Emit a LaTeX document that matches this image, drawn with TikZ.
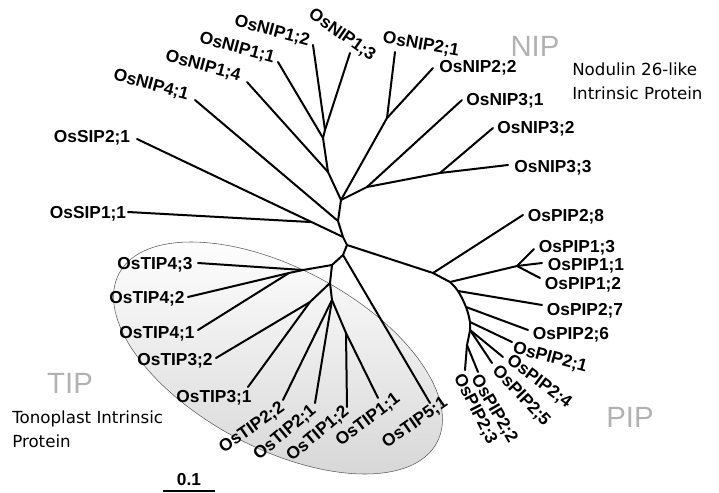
\documentclass[tikz,border=0pt]{standalone}
\usepackage{fontspec}
\setmainfont{Liberation Sans}
\newfontfamily\descfont{DejaVu Sans}

\begin{document}
\begin{tikzpicture}[x=0.75pt, y=-0.75pt,
    branch/.style={line width=1.5pt, line cap=round, line join=round},
    leaf/.style={font=\fontsize{13}{15}\selectfont\bfseries, inner sep=0pt},
    group/.style={font=\fontsize{22}{24}\selectfont, text=gray!60},
    desc/.style={font=\descfont\fontsize{12.5}{18}\selectfont, align=left, inner sep=0pt}]
    \useasboundingbox (0, 0) rectangle (719, 493);
    \shade [top color=white, bottom color=gray!32, draw=gray!70!black, line width=0.4pt,
        rotate around={-28:(278, 358)}] (278, 358) ellipse [x radius=180, y radius=90];

    \coordinate (n1) at (341, 200);
    \coordinate (n0) at (338, 221);
    \coordinate (s0) at (343, 237);
    \coordinate (c0) at (347, 245);
    \coordinate (t0) at (343, 255);
    \coordinate (n2) at (328, 172);
    \coordinate (n3) at (323, 138);
    \coordinate (n4) at (325, 130);
    \coordinate (m2) at (387, 118);
    \coordinate (m3) at (367, 187);
    \coordinate (m4) at (440, 173);
    \coordinate (s1) at (310, 222);
    \coordinate (p0) at (433, 273);
    \coordinate (p1) at (450, 282);
    \coordinate (pc) at (517, 266);
    \coordinate (p2) at (458, 291);
    \coordinate (p3) at (466, 307);
    \coordinate (p4) at (470, 322);
    \coordinate (p5) at (470, 330);
    \coordinate (p6) at (467, 345);
    \coordinate (t1) at (332, 265);
    \coordinate (t4) at (303, 270);
    \coordinate (t41) at (289, 273);
    \coordinate (t2) at (330, 283);
    \coordinate (t3) at (310, 302);
    \coordinate (t5) at (332, 300);
    \coordinate (t6) at (346, 333);

    \coordinate (nip41) at (195, 100);
    \coordinate (nip14) at (247, 82);
    \coordinate (nip11) at (278, 62);
    \coordinate (nip12) at (313, 45);
    \coordinate (nip13) at (350, 53);
    \coordinate (nip21) at (395, 52);
    \coordinate (nip22) at (433, 68);
    \coordinate (nip31) at (462, 100);
    \coordinate (nip32) at (493, 128);
    \coordinate (nip33) at (508, 165);
    \coordinate (sip21) at (137, 139);
    \coordinate (sip11) at (128, 212);
    \coordinate (pip28) at (523, 215);
    \coordinate (pip13) at (534, 249);
    \coordinate (pip11) at (542, 263);
    \coordinate (pip12) at (540, 278);
    \coordinate (pip27) at (542, 305);
    \coordinate (pip26) at (528, 330);
    \coordinate (pip21) at (512, 342);
    \coordinate (pip24) at (503, 357);
    \coordinate (pip25) at (492, 363);
    \coordinate (pip22) at (478, 372);
    \coordinate (pip23) at (465, 370);
    \coordinate (tip43) at (198, 263);
    \coordinate (tip42) at (188, 297);
    \coordinate (tip41) at (198, 330);
    \coordinate (tip32) at (216, 358);
    \coordinate (tip31) at (248, 387);
    \coordinate (tip22) at (283, 400);
    \coordinate (tip21) at (315, 403);
    \coordinate (tip12) at (347, 407);
    \coordinate (tip11) at (378, 398);
    \coordinate (tip51) at (430, 403);

    \draw [branch] (nip12) -- (n4) -- (n3) -- (n2) -- (n1) -- (n0) -- (s0) -- (c0) -- (t0);
    \draw [branch] (nip13) -- (n4);
    \draw [branch] (nip11) -- (n3);
    \draw [branch] (nip14) -- (n2);
    \draw [branch] (nip41) -- (n0);
    \draw [branch] (sip21) -- (s0);
    \draw [branch] (sip11) -- (s1);
    \draw [branch] (n1) -- (m2) -- (nip21);
    \draw [branch] (m2) -- (nip22);
    \draw [branch] (n1) -- (m3) -- (nip31);
    \draw [branch] (m3) -- (m4) -- (nip32);
    \draw [branch] (m4) -- (nip33);

    \draw [branch] (c0) -- (p0) -- (pip28);
    \draw [branch] (p0) -- (p1) -- (pc) -- (pip11);
    \draw [branch] (pc) -- (pip13);
    \draw [branch] (pc) -- (pip12);
    \draw [branch] plot [smooth, tension=0.6] coordinates {(p1) (p2) (p3) (p4) (p5) (p6)};
    \draw [branch] (p2) -- (pip27);
    \draw [branch] (p3) -- (pip26);
    \draw [branch] (p4) -- (pip21);
    \draw [branch] (p5) -- (pip24);
    \draw [branch] (p5) -- (pip25);
    \draw [branch] (p6) -- (pip22);
    \draw [branch] (p6) -- (pip23);

    \draw [branch] (t0) -- (t1) -- (t4) -- (tip43);
    \draw [branch] (t4) -- (t41) -- (tip42);
    \draw [branch] (t41) -- (tip41);
    \draw [branch] (t1) -- (t2) -- (t3) -- (tip32);
    \draw [branch] (t3) -- (tip31);
    \draw [branch] (t2) -- (t5) -- (tip22);
    \draw [branch] (t5) -- (tip21);
    \draw [branch] (t5) -- (t6) -- (tip11);
    \draw [branch] (t6) -- (tip12);
    \draw [branch] (t0) -- (tip51);

    \node [leaf] (sip21t) at (92, 138) {OsSIP2;1};
    \node [leaf] (sip11t) at (88, 214) {OsSIP1;1};
    \node [leaf, rotate=-15] (nip41t) at (151, 85) {OsNIP4;1};
    \node [leaf, rotate=-15] (nip14t) at (203, 66) {OsNIP1;4};
    \node [leaf, rotate=-15] (nip11t) at (237, 48) {OsNIP1;1};
    \node [leaf, rotate=-15] (nip12t) at (272, 31) {OsNIP1;2};
    \node [leaf, rotate=-35] (nip13t) at (342, 35) {OsNIP1;3};
    \node [leaf, rotate=-10] (nip21t) at (421, 45) {OsNIP2;1};
    \node [leaf] (nip22t) at (478, 68) {OsNIP2;2};
    \node [leaf] (nip31t) at (505, 101) {OsNIP3;1};
    \node [leaf] (nip32t) at (536, 129) {OsNIP3;2};
    \node [leaf] (nip33t) at (553, 168) {OsNIP3;3};
    \node [leaf] (pip28t) at (566, 217) {OsPIP2;8};
    \node [leaf] (pip13t) at (577, 248) {OsPIP1;3};
    \node [leaf] (pip11t) at (586, 266) {OsPIP1;1};
    \node [leaf] (pip12t) at (583, 285) {OsPIP1;2};
    \node [leaf] (pip27t) at (585, 311) {OsPIP2;7};
    \node [leaf] (pip26t) at (571, 335) {OsPIP2;6};
    \node [leaf, rotate=-15] (pip21t) at (550, 358) {OsPIP2;1};
    \node [leaf, rotate=-37] (pip24t) at (539, 382) {OsPIP2;4};
    \node [leaf, rotate=-47] (pip25t) at (521, 396) {OsPIP2;5};
    \node [leaf, rotate=-60] (pip22t) at (494, 409) {OsPIP2;2};
    \node [leaf, rotate=-63] (pip23t) at (475, 409) {OsPIP2;3};
    \node [leaf] (tip43t) at (155, 265) {OsTIP4;3};
    \node [leaf] (tip42t) at (147, 299) {OsTIP4;2};
    \node [leaf] (tip41t) at (157, 334) {OsTIP4;1};
    \node [leaf] (tip32t) at (175, 361) {OsTIP3;2};
    \node [leaf] (tip31t) at (214, 398) {OsTIP3;1};
    \node [leaf, rotate=35] (tip22t) at (252, 428) {OsTIP2;2};
    \node [leaf, rotate=40] (tip21t) at (285, 433) {OsTIP2;1};
    \node [leaf, rotate=40] (tip12t) at (318, 434) {OsTIP1;2};
    \node [leaf, rotate=37] (tip11t) at (368, 420) {OsTIP1;1};
    \node [leaf, rotate=35] (tip51t) at (415, 423) {OsTIP5;1};

    \node [group] (nip) at (535, 46) {NIP};
    \node [group] (tip) at (70, 383) {TIP};
    \node [group] (pip) at (630, 417) {PIP};
    \node [desc, anchor=west] (nipdesc) at (572, 81) {Nodulin 26-like\\Intrinsic Protein};
    \node [desc, anchor=west] (tipdesc) at (12, 429) {Tonoplast Intrinsic\\Protein};

    \coordinate (sb0) at (163, 491);
    \coordinate (sb1) at (215, 491);
    \draw [line width=1.5pt] (sb0) -- (sb1);
    \node [leaf] (scale) at (189, 480) {0.1};
\end{tikzpicture}
\end{document}
